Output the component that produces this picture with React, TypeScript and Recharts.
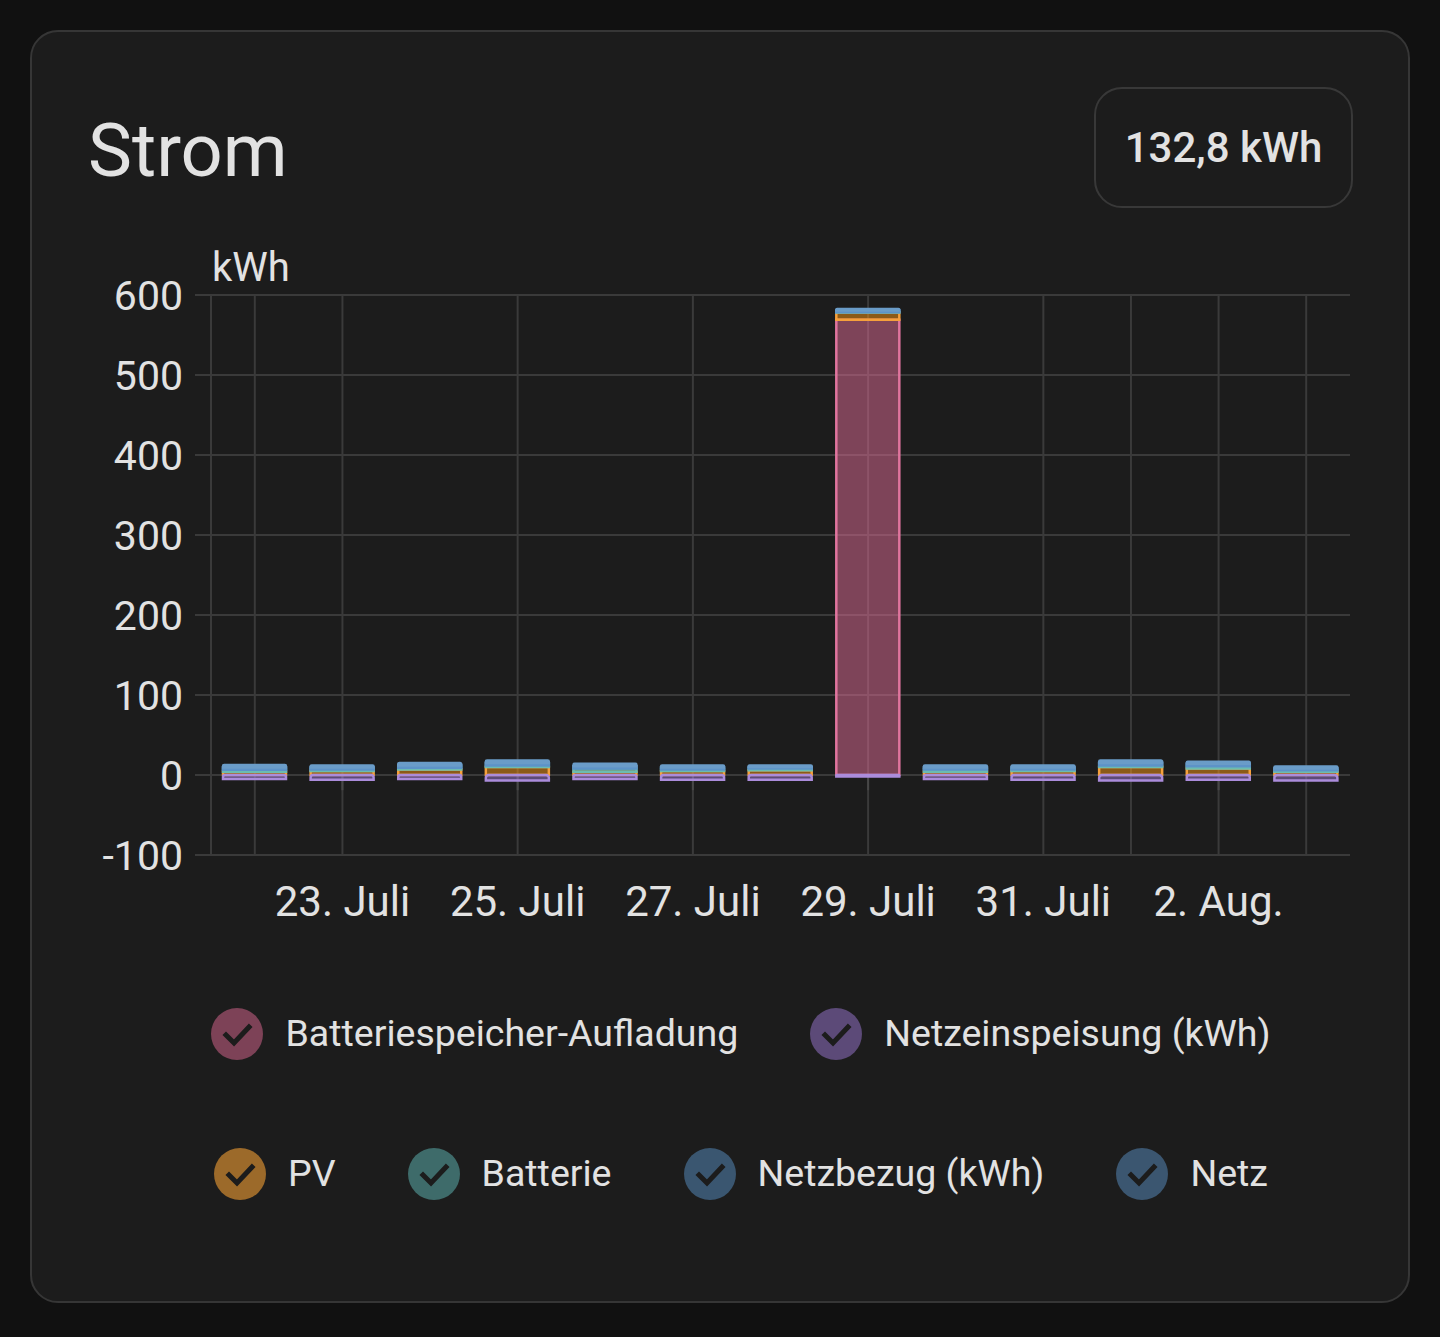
import React from 'react';
import { BarChart, Bar, XAxis, YAxis, CartesianGrid, ReferenceLine } from 'recharts';

const days = [
  '22. Juli', '23. Juli', '24. Juli', '25. Juli', '26. Juli', '27. Juli', '28. Juli',
  '29. Juli', '30. Juli', '31. Juli', '1. Aug.', '2. Aug.', '3. Aug.',
];
const batteriespeicher = [0, 0, 0, 0, 0, 0, 0, 569, 0, 0, 0, 0, 0];
const pv = [4, 5, 7, 10, 4, 5, 6, 9, 4, 5, 10, 8, 4];
const batterie = [2.5, 2, 2, 2, 4, 2, 2, 0.5, 3, 2, 2, 3, 2];
const netzbezug = [3, 2.5, 3, 3, 3, 2.5, 2, 2, 2.5, 2.5, 3, 3, 2];
const netz = [3, 2.5, 3, 3, 3, 2.5, 2, 2, 2.5, 2.5, 3, 2.5, 2.5];
const netzeinspeisung = [-5, -6, -5, -7, -5, -6, -6, -2, -5, -6, -7, -6, -7];

const xTicks = ['23. Juli', '25. Juli', '27. Juli', '29. Juli', '31. Juli', '2. Aug.'];
const gridDays = ['22. Juli', '23. Juli', '25. Juli', '27. Juli', '29. Juli', '31. Juli', '1. Aug.', '2. Aug.', '3. Aug.'];
const yTicks = [-100, 0, 100, 200, 300, 400, 500, 600];

const title = 'Strom';
const totalLabel = '132,8 kWh';
const unitLabel = 'kWh';

type Series = {
  key: string;
  name: string;
  values: number[];
  stroke: string;
  fill: string;
  legend: string;
  radius?: [number, number, number, number];
};

const series: Series[] = [
  { key: 'batteriespeicher', name: 'Batteriespeicher-Aufladung', values: batteriespeicher, stroke: '#e0749e', fill: 'rgba(224,108,150,0.5)', legend: '#7d4257' },
  { key: 'pv', name: 'PV', values: pv, stroke: '#f5a03c', fill: 'rgba(250,152,20,0.5)', legend: '#9c6a2a' },
  { key: 'batterie', name: 'Batterie', values: batterie, stroke: '#6cbcb0', fill: 'rgba(96,186,180,0.5)', legend: '#3e6b6a' },
  { key: 'netzbezug', name: 'Netzbezug (kWh)', values: netzbezug, stroke: '#5d93c8', fill: 'rgba(88,144,196,0.5)', legend: '#3a5670' },
  { key: 'netz', name: 'Netz', values: netz, stroke: '#6a9cc8', fill: 'rgba(90,146,196,0.5)', legend: '#3b5670', radius: [4, 4, 0, 0] },
  { key: 'netzeinspeisung', name: 'Netzeinspeisung (kWh)', values: netzeinspeisung, stroke: '#ab8cdb', fill: 'rgba(156,120,212,0.5)', legend: '#5c4a78', radius: [0, 0, 4, 4] },
];

const legendRows = [
  ['batteriespeicher', 'netzeinspeisung'],
  ['pv', 'batterie', 'netzbezug', 'netz'],
];

const data = days.map((day, i) => {
  const row: Record<string, string | number> = { day };
  series.forEach((s) => {
    row[s.key] = s.values[i];
  });
  return row;
});

const FONT = 'Roboto, "Noto Sans", sans-serif';
const TEXT = '#e2e2e2';
const GRID = '#3a3a3a';

function LegendItem({ s }: { s: Series }) {
  return (
    <div style={{ display: 'flex', alignItems: 'center', gap: 22 }}>
      <svg width={52} height={52} viewBox="0 0 52 52">
        <circle cx={26} cy={26} r={26} fill={s.legend} />
        <polyline points="15,27 23,35 38,19" fill="none" stroke="#1c1c1c" strokeWidth={5} strokeLinecap="square" />
      </svg>
      <span style={{ fontSize: 37.5, lineHeight: 1, color: TEXT, fontFamily: FONT, whiteSpace: 'nowrap' }}>{s.name}</span>
    </div>
  );
}

export default function App() {
  return (
    <div style={{ position: 'fixed', left: 0, top: 0, width: 1440, height: 1337, background: '#111111', fontFamily: FONT }}>
      <div
        style={{
          position: 'absolute', left: 30, top: 30, width: 1376, height: 1269,
          border: '2px solid #363636', borderRadius: 28, background: '#1c1c1c',
        }}
      />
      <div style={{ position: 'absolute', left: 88, top: 114, fontSize: 74, lineHeight: 1, color: TEXT }}>{title}</div>
      <div
        style={{
          position: 'absolute', left: 1094, top: 87, width: 255, height: 117,
          border: '2px solid #383838', borderRadius: 28, display: 'flex',
          alignItems: 'center', justifyContent: 'center',
        }}
      >
        <span style={{ fontSize: 42, fontWeight: 500, color: TEXT, lineHeight: 1 }}>{totalLabel}</span>
      </div>
      <div style={{ position: 'absolute', left: 212, top: 248, fontSize: 40, lineHeight: 1, color: TEXT }}>{unitLabel}</div>

      <div style={{ position: 'absolute', left: 0, top: 0 }}>
        <BarChart
          width={1440}
          height={960}
          data={data}
          stackOffset="sign"
          margin={{ top: 295, right: 90, bottom: 25, left: 2 }}
        >
          <CartesianGrid vertical={false} stroke={GRID} strokeWidth={2} />
          {gridDays.map((d) => (
            <ReferenceLine key={'g' + d} x={d} stroke={GRID} strokeWidth={2} zIndex={-90} />
          ))}
          {xTicks.map((d) => (
            <ReferenceLine key={'t' + d} segment={[{ x: d, y: 0 }, { x: d, y: -19 }]} stroke="#474747" strokeWidth={2} zIndex={-80} />
          ))}
          <XAxis
            dataKey="day"
            ticks={xTicks}
            interval={0}
            tickLine={false}
            axisLine={false}
            tickSize={0}
            tickMargin={31}
            height={80}
            tick={{ fill: TEXT, fontSize: 42, fontFamily: FONT }}
          />
          <YAxis
            type="number"
            width={209}
            domain={[-100, 600]}
            ticks={yTicks}
            interval={0}
            tickSize={16}
            tickMargin={12}
            axisLine={{ stroke: GRID, strokeWidth: 2 }}
            tickLine={{ stroke: GRID, strokeWidth: 2 }}
            tick={{ fill: TEXT, fontSize: 41, fontFamily: FONT }}
          />
          {series.map((s) => (
            <Bar
              key={s.key}
              dataKey={s.key}
              name={s.name}
              stackId="a"
              fill={s.fill}
              stroke={s.stroke}
              strokeWidth={2.5}
              barSize={63}
              radius={s.radius ?? 0}
              isAnimationActive={false}
            />
          ))}
        </BarChart>
      </div>

      {legendRows.map((row, ri) => (
        <div
          key={ri}
          style={{
            position: 'absolute', left: 0, width: 1482, top: ri === 0 ? 1008 : 1148,
            display: 'flex', justifyContent: 'center', alignItems: 'center', gap: 72,
          }}
        >
          {row.map((k) => {
            const s = series.find((x) => x.key === k)!;
            return <LegendItem key={k} s={s} />;
          })}
        </div>
      ))}
    </div>
  );
}
